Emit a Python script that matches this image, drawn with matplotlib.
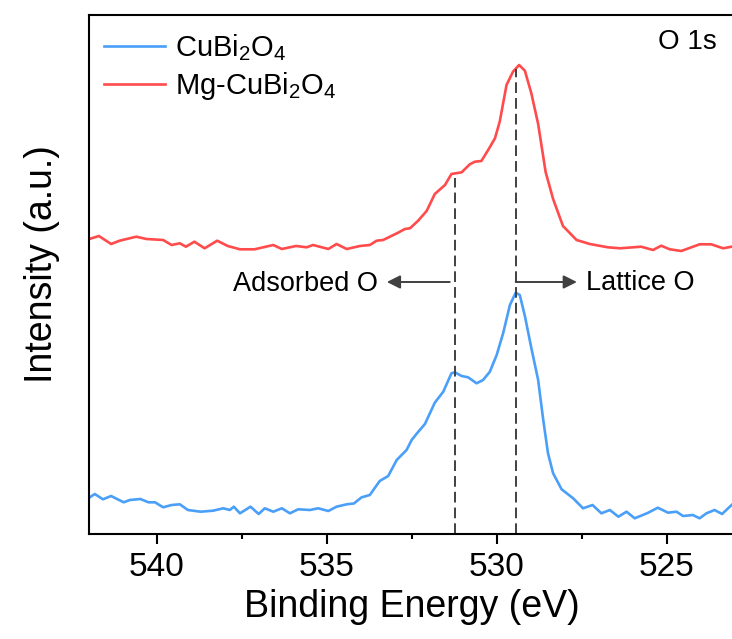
import matplotlib
matplotlib.use("Agg")
import matplotlib.pyplot as plt
from matplotlib.ticker import MultipleLocator, NullLocator

plt.rcParams['font.family'] = ['Liberation Sans', 'DejaVu Sans']
plt.rcParams['mathtext.default'] = 'regular'

# binding energy (eV) and intensity (a.u.)
e_cubi = [542.02, 541.83, 541.59, 541.35, 540.98, 540.80, 540.49, 540.25, 540.06, 539.82,
          539.57, 539.33, 539.09, 538.72, 538.35, 538.05, 537.86, 537.74, 537.56, 537.25,
          537.01, 536.83, 536.58, 536.33, 536.09, 535.85, 535.50, 535.26, 534.96, 534.72,
          534.42, 534.21, 533.98, 533.74, 533.45, 533.20, 532.95, 532.66, 532.51, 532.37,
          532.12, 531.83, 531.58, 531.34, 531.24, 531.04, 530.85, 530.60, 530.41, 530.21,
          530.01, 529.82, 529.62, 529.45, 529.33, 529.18, 528.99, 528.79, 528.64, 528.50,
          528.35, 528.10, 527.76, 527.47, 527.19, 526.93, 526.68, 526.43, 526.19, 525.95,
          525.57, 525.27, 524.97, 524.72, 524.53, 524.24, 524.04, 523.84, 523.60, 523.38,
          523.10]
i_cubi = [35.7, 40.0, 34.7, 38.0, 31.7, 34.0, 35.0, 31.7, 31.7, 26.7,
          29.0, 29.7, 24.0, 22.3, 23.3, 25.7, 24.0, 27.3, 20.7, 27.3,
          20.0, 25.7, 22.3, 25.7, 20.7, 24.7, 24.0, 25.7, 23.0, 27.3,
          29.7, 30.5, 36.7, 39.0, 53.0, 58.0, 74.0, 84.0, 94.0, 100.0,
          110.0, 131.3, 142.3, 160.7, 161.7, 158.0, 156.7, 150.7, 154.0, 162.3,
          179.0, 200.7, 229.0, 241.3, 239.0, 218.0, 186.0, 154.0, 114.0, 80.7,
          60.7, 44.7, 35.7, 25.7, 29.0, 20.7, 24.0, 17.3, 22.3, 15.7,
          21.0, 26.3, 21.3, 22.3, 18.0, 19.0, 15.7, 20.7, 24.0, 20.0,
          29.0]

e_mg = [542.02, 541.71, 541.35, 541.10, 540.61, 540.31, 539.82, 539.57, 539.33, 539.15,
        538.90, 538.60, 538.23, 537.92, 537.56, 537.13, 536.58, 536.33, 535.91, 535.60,
        535.41, 534.96, 534.72, 534.42, 534.03, 533.74, 533.54, 533.35, 533.15, 532.91,
        532.71, 532.56, 532.32, 532.07, 531.83, 531.53, 531.34, 531.04, 530.80, 530.65,
        530.46, 530.26, 530.06, 529.92, 529.72, 529.53, 529.35, 529.18, 528.99, 528.79,
        528.57, 528.35, 528.06, 527.66, 527.27, 526.74, 526.38, 525.76, 525.41, 525.17,
        524.92, 524.58, 524.04, 523.70, 523.35, 523.10]
i_mg = [294.7, 298.0, 290.0, 293.3, 297.3, 295.0, 294.0, 289.0, 290.7, 287.3,
        292.3, 285.7, 293.3, 288.0, 284.7, 284.7, 289.0, 285.0, 288.0, 286.7,
        289.0, 285.0, 290.0, 285.0, 288.0, 289.0, 293.3, 294.0, 297.3, 301.3,
        305.0, 305.7, 313.3, 323.0, 340.0, 349.0, 360.0, 361.7, 369.7, 372.3,
        373.0, 384.0, 395.7, 412.3, 449.0, 462.3, 469.0, 463.3, 440.7, 410.0,
        362.0, 335.0, 308.0, 294.0, 290.0, 286.7, 285.7, 287.3, 284.0, 288.3,
        284.7, 283.0, 289.7, 289.7, 285.7, 287.3]

peak_adsorbed = 531.24
peak_lattice = 529.45
top_adsorbed = 356
top_lattice = 465
arrow_level = 252

fig = plt.figure(figsize=(7.32, 6.39), dpi=100)
ax = fig.add_axes([89 / 732, 105 / 639, 646 / 732, 519 / 639])

ax.plot(e_cubi, i_cubi, color='#4a9ff8', lw=1.9, label='CuBi$_2$O$_4$',
        solid_joinstyle='round')
ax.plot(e_mg, i_mg, color='#ff4b4b', lw=1.9, label='Mg-CuBi$_2$O$_4$',
        solid_joinstyle='round')

ax.plot([peak_adsorbed, peak_adsorbed], [0, top_adsorbed], ls=(0, (5.5, 2.6)),
        color='#404040', lw=1.4)
ax.plot([peak_lattice, peak_lattice], [0, top_lattice], ls=(0, (5.5, 2.6)),
        color='#404040', lw=1.4)

arr = dict(arrowstyle='-|>', color='#404040', lw=1.4, mutation_scale=20,
           shrinkA=0, shrinkB=0)
ax.annotate('', xy=(533.24, arrow_level), xytext=(531.39, arrow_level), arrowprops=arr)
ax.annotate('', xy=(527.65, arrow_level), xytext=(peak_lattice, arrow_level), arrowprops=arr)
ax.text(533.49, arrow_level - 2, 'Adsorbed O', fontsize=19.5, ha='right', va='center')
ax.text(527.38, arrow_level - 1, 'Lattice O', fontsize=19.5, ha='left', va='center')

ax.text(0.972, 0.948, 'O 1s', transform=ax.transAxes, fontsize=20,
        ha='right', va='center')

ax.set_xlim(542, 523)
ax.set_ylim(0, 519)
ax.xaxis.set_major_locator(MultipleLocator(5))
ax.xaxis.set_minor_locator(MultipleLocator(2.5))
ax.yaxis.set_major_locator(NullLocator())
ax.tick_params(axis='x', which='major', direction='out', length=7, width=1.5,
               labelsize=24, pad=6)
ax.tick_params(axis='x', which='minor', direction='out', length=3.6, width=1.5)
for s in ax.spines.values():
    s.set_linewidth(1.5)

ax.set_xlabel('Binding Energy (eV)', fontsize=27, labelpad=4)
ax.set_ylabel('Intensity (a.u.)', fontsize=27)
ax.yaxis.set_label_coords(-0.045, 0.52)

ax.legend(loc='upper left', frameon=False, fontsize=21, handlelength=2.1,
          handletextpad=0.35, labelspacing=0.25, borderaxespad=0.1,
          bbox_to_anchor=(0.0, 0.995))

fig.savefig('out.png', dpi=100)
